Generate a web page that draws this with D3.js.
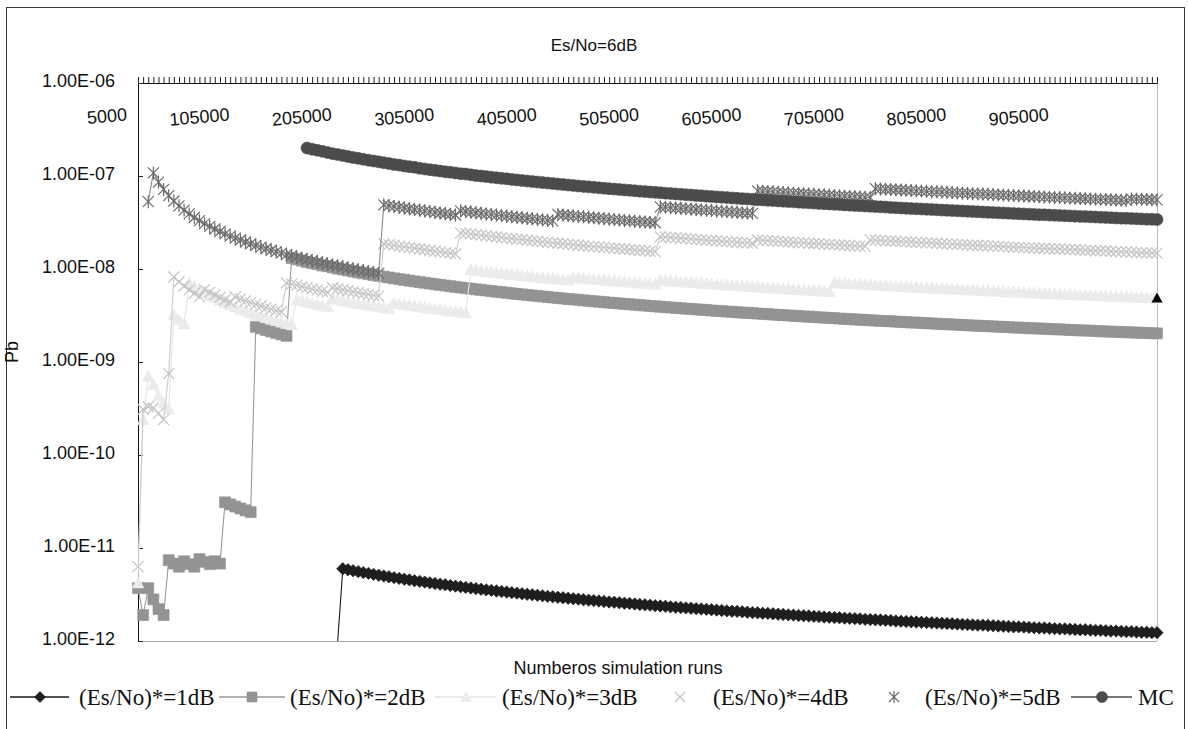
<!DOCTYPE html>
<html>
<head>
<meta charset="utf-8">
<script src="https://cdn.jsdelivr.net/npm/d3@7"></script>
<style>
  body { margin: 0; background: #fff; }
  svg { display: block; }
  .sans { font-family: "Liberation Sans", Arial, sans-serif; }
  .serif { font-family: "Liberation Serif", "Times New Roman", serif; }
</style>
</head>
<body>
<svg id="chart" width="1188" height="729"></svg>
<script>
// ---------------------------------------------------------------
// Data
// ---------------------------------------------------------------
// Number of simulation runs on the category axis: 5000 ... 1 000 000
const runs = d3.range(5000, 1000001, 5000);
const runLabels = ["5000", "105000", "205000", "305000", "405000",
                   "505000", "605000", "705000", "805000", "905000"];
const decadeTicks  = [1e-12, 1e-11, 1e-10, 1e-9, 1e-8, 1e-7, 1e-6];
const decadeLabels = ["1.00E-12", "1.00E-11", "1.00E-10", "1.00E-09",
                      "1.00E-08", "1.00E-07", "1.00E-06"];

const seriesNames = ["(Es/No)*=1dB", "(Es/No)*=2dB", "(Es/No)*=3dB",
                     "(Es/No)*=4dB", "(Es/No)*=5dB", "MC"];
// index into `runs` of the first value of each series
const seriesStart = [39, 0, 0, 0, 2, 33];

// Bit error probability estimates (each list in the unit noted)
const pb1dB = [ // x 1e-12
  0,
  5.98,5.83,5.70,5.57,5.44,5.33,5.21,5.10,5.00,4.90,
  4.80,4.71,4.62,4.54,4.45,4.38,4.30,4.22,4.15,4.08,
  4.02,3.95,3.89,3.83,3.77,3.71,3.66,3.60,3.55,3.50,
  3.45,3.40,3.36,3.31,3.27,3.22,3.18,3.14,3.10,3.06,
  3.02,2.99,2.95,2.92,2.88,2.85,2.82,2.78,2.75,2.72,
  2.69,2.66,2.63,2.61,2.58,2.55,2.53,2.50,2.47,2.45,
  2.43,2.40,2.38,2.36,2.33,2.31,2.29,2.27,2.25,2.23,
  2.21,2.19,2.17,2.15,2.13,2.11,2.09,2.08,2.06,2.04,
  2.02,2.01,1.99,1.98,1.96,1.94,1.93,1.91,1.90,1.88,
  1.87,1.86,1.84,1.83,1.81,1.80,1.79,1.78,1.76,1.75,
  1.74,1.73,1.71,1.70,1.69,1.68,1.67,1.66,1.64,1.63,
  1.62,1.61,1.60,1.59,1.58,1.57,1.56,1.55,1.54,1.53,
  1.52,1.51,1.50,1.49,1.48,1.48,1.47,1.46,1.45,1.44,
  1.43,1.42,1.42,1.41,1.40,1.39,1.38,1.38,1.37,1.36,
  1.35,1.35,1.34,1.33,1.32,1.32,1.31,1.30,1.30,1.29,
  1.28,1.28,1.27,1.26,1.26,1.25,1.24,1.24,1.23,1.23
].map(v => v * 1e-12);

const pb2dB = [ // x 1e-9
  0.0037,0.0019,0.0037,0.0028,0.0022,0.0019,
  0.0074,0.0068,0.0063,0.0072,0.0067,0.0063,0.0076,0.0071,0.0067,0.0072,0.0068,
  0.0310,0.0294,0.0279,0.0266,0.0254,0.0243,
  2.39,2.30,2.21,2.13,2.05,1.98,1.91,
  13.1,12.7,12.3,11.9,11.6,11.3,10.9,10.7,10.4,10.1,
  9.88,9.64,9.42,9.20,9.00,8.80,8.62,8.44,8.27,8.10,
  7.94,7.79,7.64,7.50,7.36,7.23,7.11,6.98,6.86,6.75,
  6.64,6.53,6.43,6.33,6.23,6.14,6.04,5.96,5.87,5.79,
  5.70,5.63,5.55,5.47,5.40,5.33,5.26,5.19,5.13,5.06,
  5.00,4.94,4.88,4.82,4.76,4.71,4.66,4.60,4.55,4.50,
  4.45,4.40,4.35,4.31,4.26,4.22,4.18,4.13,4.09,4.05,
  4.01,3.97,3.93,3.89,3.86,3.82,3.79,3.75,3.72,3.68,
  3.65,3.62,3.58,3.55,3.52,3.49,3.46,3.43,3.40,3.38,
  3.35,3.32,3.29,3.27,3.24,3.21,3.19,3.16,3.14,3.12,
  3.09,3.07,3.05,3.02,3.00,2.98,2.96,2.93,2.91,2.89,
  2.87,2.85,2.83,2.81,2.79,2.77,2.76,2.74,2.72,2.70,
  2.68,2.66,2.65,2.63,2.61,2.60,2.58,2.56,2.55,2.53,
  2.52,2.50,2.48,2.47,2.45,2.44,2.43,2.41,2.40,2.38,
  2.37,2.35,2.34,2.33,2.31,2.30,2.29,2.28,2.26,2.25,
  2.24,2.23,2.21,2.20,2.19,2.18,2.17,2.15,2.14,2.13,
  2.12,2.11,2.10,2.09,2.08,2.07,2.06,2.05,2.04,2.03
].map(v => v * 1e-9);

const pb3dB = [ // x 1e-9
  0.0042,0.24,0.70,0.57,0.43,0.36,0.31,
  3.20,2.84,2.56,
  7.09,6.50,6.00,5.57,5.20,4.88,4.59,4.33,4.11,3.90,
  3.71,3.55,3.39,3.25,3.12,3.00,2.89,2.79,2.69,2.60,2.52,
  4.69,4.55,4.41,4.29,4.17,4.05,3.95,
  4.82,4.70,4.59,4.48,4.37,4.27,4.18,4.09,4.00,3.92,3.84,3.76,
  4.31,4.23,4.15,4.07,4.00,3.93,3.86,3.79,3.73,3.67,3.61,3.55,3.49,3.44,3.38,
  9.79,9.64,9.50,9.36,9.23,9.10,8.97,8.85,8.73,8.61,
  8.50,8.39,8.28,8.18,8.08,7.98,7.88,7.78,7.69,7.60,
  8.14,8.05,7.95,7.87,7.78,7.69,7.61,7.53,7.45,7.37,7.29,7.22,7.14,7.07,7.00,6.93,6.86,
  7.57,7.50,7.43,7.36,7.29,7.22,7.16,7.09,7.03,6.96,
  6.90,6.84,6.78,6.72,6.67,6.61,6.55,6.50,6.45,6.39,
  6.34,6.29,6.24,6.19,6.14,6.09,6.05,6.00,5.95,5.91,
  5.86,5.82,5.78,5.74,
  7.11,7.06,7.01,6.96,6.91,6.86,6.81,6.76,6.72,6.67,6.63,6.58,6.54,6.49,
  6.45,6.41,6.37,6.32,6.28,6.24,6.20,6.16,6.13,6.09,
  6.05,6.01,5.98,5.94,5.90,5.87,5.83,5.80,5.76,5.73,
  5.70,5.66,5.63,5.60,5.57,5.53,5.50,5.47,5.44,5.41,
  5.38,5.35,5.32,5.29,5.26,5.24,5.21,5.18,5.15,5.13,
  5.10,5.07,5.05,5.02,4.99,4.97,4.94,4.92,4.89,4.87
].map(v => v * 1e-9);

const pb4dB = [ // x 1e-9
  0.0063,0.31,0.33,0.32,0.28,0.24,0.75,
  8.20,7.29,6.56,5.96,5.47,5.05,
  6.00,5.60,5.25,4.94,4.67,4.42,
  5.00,4.76,4.55,4.35,4.17,4.00,3.85,3.70,3.57,3.45,
  7.10,6.87,6.66,6.45,6.26,6.09,5.92,5.76,5.61,
  6.28,6.13,5.98,5.83,5.70,5.57,5.44,5.33,5.21,5.10,
  18.7,18.3,18.0,17.6,17.3,17.0,16.7,16.4,16.1,15.8,15.5,15.3,15.0,14.8,14.5,
  24.5,24.2,23.8,23.4,23.1,22.8,22.4,22.1,21.8,21.5,
  21.2,20.9,20.7,20.4,20.1,19.9,19.6,19.4,19.1,18.9,
  18.7,18.5,18.3,18.0,17.8,17.6,17.4,17.3,17.1,16.9,
  16.7,16.5,16.4,16.2,16.0,15.9,15.7,15.5,15.4,
  22.2,22.0,21.8,21.6,21.4,21.2,21.0,20.8,20.6,20.4,
  20.3,20.1,19.9,19.7,19.6,19.4,19.2,19.1,18.9,
  20.5,20.3,20.2,20.0,19.8,19.7,19.5,19.4,19.2,19.1,
  18.9,18.8,18.7,18.5,18.4,18.2,18.1,18.0,17.9,17.7,17.6,17.5,
  20.6,20.4,20.3,20.1,20.0,19.9,19.7,19.6,19.5,19.3,
  19.2,19.1,19.0,18.9,18.7,18.6,18.5,18.4,18.3,18.2,
  18.0,17.9,17.8,17.7,17.6,17.5,17.4,17.3,17.2,17.1,
  17.0,16.9,16.8,16.7,16.6,16.5,16.4,16.4,16.3,16.2,
  16.1,16.0,15.9,15.8,15.7,15.7,15.6,15.5,15.4,15.3,
  15.3,15.2,15.1,15.0,14.9,14.9,14.8
].map(v => v * 1e-9);

const pb5dB = [ // x 1e-9
  53,
  108,86.0,71.7,61.4,53.8,47.8,43.0,39.1,35.8,33.1,
  30.7,28.7,26.9,25.3,23.9,22.6,21.5,20.5,19.5,18.7,
  17.9,17.2,16.5,15.9,15.4,14.8,14.3,13.9,13.4,13.0,
  12.6,12.3,11.9,11.6,11.3,11.0,10.8,10.5,10.2,10.0,
  9.77,9.56,9.35,9.15,8.96,
  49.0,48.0,47.1,46.2,45.3,44.4,43.6,42.9,42.1,41.4,40.7,40.0,39.3,38.7,38.1,
  42.2,41.5,40.9,40.3,39.7,39.1,38.6,38.0,37.5,37.0,
  36.5,36.0,35.5,35.1,34.6,34.2,33.8,33.3,32.9,
  38.6,38.1,37.6,37.2,36.8,36.4,36.0,35.6,35.2,34.8,
  34.4,34.0,33.7,33.3,33.0,32.7,32.3,32.0,31.7,31.4,
  46.6,46.2,45.7,45.3,44.9,44.4,44.0,43.6,43.2,42.9,
  42.5,42.1,41.7,41.4,41.0,40.7,40.3,40.0,39.7,
  69.2,68.6,68.1,67.5,67.0,66.5,65.9,65.4,64.9,64.4,
  63.9,63.5,63.0,62.5,62.1,61.6,61.2,60.7,60.3,59.9,59.4,59.0,58.6,
  73.1,72.6,72.1,71.6,71.1,70.7,70.2,69.7,69.3,68.8,
  68.4,67.9,67.5,67.1,66.7,66.3,65.8,65.4,65.0,64.6,
  64.2,63.9,63.5,63.1,62.7,62.4,62.0,61.6,61.3,60.9,
  60.6,60.2,59.9,59.6,59.2,58.9,58.6,58.2,57.9,57.6,
  57.3,57.0,56.7,56.4,56.1,55.8,55.5,55.2,54.9,54.6,
  56.7,56.4,56.1,55.9,55.6,55.3
].map(v => v * 1e-9);

const pbMC = [ // x 1e-9
  200,194,189,184,179,174,170,166,162,158,
  155,151,148,145,142,139,136,133,131,128,
  126,124,121,119,117,115,113,111,110,108,
  106,105,103,101,100,
  98.6,97.1,95.8,94.4,93.2,91.9,90.7,89.5,88.3,87.2,
  86.1,85.0,84.0,82.9,81.9,81.0,80.0,79.1,78.2,77.3,
  76.4,75.6,74.7,73.9,73.1,72.3,71.6,70.8,70.1,69.4,
  68.7,68.0,67.3,66.7,66.0,65.4,64.8,64.2,63.6,63.0,
  62.4,61.8,61.3,60.7,60.2,59.6,59.1,58.6,58.1,57.6,
  57.1,56.7,56.2,55.7,55.3,54.8,54.4,54.0,53.5,53.1,
  52.7,52.3,51.9,51.5,51.1,50.7,50.4,50.0,49.6,49.3,
  48.9,48.6,48.2,47.9,47.6,47.2,46.9,46.6,46.3,45.9,
  45.6,45.3,45.0,44.7,44.4,44.2,43.9,43.6,43.3,43.0,
  42.8,42.5,42.2,42.0,41.7,41.5,41.2,41.0,40.7,40.5,
  40.2,40.0,39.8,39.5,39.3,39.1,38.9,38.6,38.4,38.2,
  38.0,37.8,37.6,37.4,37.2,37.0,36.8,36.6,36.4,36.2,
  36.0,35.8,35.6,35.4,35.2,35.1,34.9,34.7,34.5,34.3,
  34.2,34.0
].map(v => v * 1e-9);

const seriesValues = [pb1dB, pb2dB, pb3dB, pb4dB, pb5dB, pbMC];

// ---------------------------------------------------------------
// Styling
// ---------------------------------------------------------------
const shapes = {
  diamond:  "M0,-6.2L6.2,0L0,6.2L-6.2,0Z",
  square:   "M-5.5,-5.5H5.5V5.5H-5.5Z",
  triangle: "M0,-6L6,5H-6Z",
  cross:    "M-5.5,-5.5L5.5,5.5M5.5,-5.5L-5.5,5.5",
  star:     "M-5.5,-5.5L5.5,5.5M5.5,-5.5L-5.5,5.5M0,-6.5V6.5",
  circle:   d3.symbol(d3.symbolCircle, Math.PI * 6 * 6)()
};
const legendShapes = {
  diamond:  "M0,-5.5L5.5,0L0,5.5L-5.5,0Z",
  square:   "M-5,-5H5V5H-5Z",
  triangle: "M0,-5.5L5.5,4.5H-5.5Z",
  cross:    "M-5,-5L5,5M5,-5L-5,5",
  star:     "M-5,-5L5,5M5,-5L-5,5M0,-6V6",
  circle:   d3.symbol(d3.symbolCircle, Math.PI * 5.5 * 5.5)()
};
const seriesStyle = [
  { shape: "diamond",  fill: "#1e1e1e", line: "#1a1a1a", legendLine: true  },
  { shape: "square",   fill: "#939393", line: "#9a9a9a", legendLine: true  },
  { shape: "triangle", fill: "#ebebeb", line: "#e4e4e4", legendLine: true  },
  { shape: "cross",    stroke: "#c4c4c4", line: "#cccccc", legendLine: false },
  { shape: "star",     stroke: "#6b6b6b", line: "#8a8a8a", legendLine: false },
  { shape: "circle",   fill: "#4b4b4b", line: "#4b4b4b", legendLine: true  }
];

// ---------------------------------------------------------------
// Chart
// ---------------------------------------------------------------
const plot = { left: 138, right: 1157, top: 83, bottom: 641 };
const svg = d3.select("#chart");

// outer chart frame
svg.append("rect")
  .attr("x", 6.5).attr("y", 7.5)
  .attr("width", 1178).attr("height", 740)
  .attr("fill", "#fff").attr("stroke", "#3a3a3a").attr("stroke-width", 1);

const x = d3.scalePoint().domain(runs).range([plot.left, plot.right]);
const y = d3.scaleLog().domain([1e-12, 1e-6]).range([plot.bottom, plot.top]).clamp(true);

// plot-area edges (bottom and right in light grey)
svg.append("line")
  .attr("x1", plot.left).attr("x2", plot.right)
  .attr("y1", plot.bottom + 0.5).attr("y2", plot.bottom + 0.5)
  .attr("stroke", "#a8a8a8");
svg.append("line")
  .attr("x1", plot.right + 0.5).attr("x2", plot.right + 0.5)
  .attr("y1", plot.top).attr("y2", plot.bottom)
  .attr("stroke", "#bcbcbc");

// category axis along the top
const xAxisG = svg.append("g")
  .attr("transform", `translate(0,${plot.top})`)
  .call(d3.axisTop(x).tickValues(runs).tickSize(6).tickSizeOuter(0).tickFormat(""));
xAxisG.select(".domain").attr("stroke", "#111");
xAxisG.selectAll(".tick line").attr("stroke", "#222");

svg.append("g").selectAll("text")
  .data(runLabels)
  .join("text")
  .attr("class", "sans")
  .attr("font-size", 18)
  .attr("fill", "#111")
  .attr("text-anchor", "end")
  .attr("transform", d => `translate(${x(+d) - 10.5},120.5) rotate(-5)`)
  .text(d => d);

// log axis on the left, ticks pointing into the plot
const yAxisG = svg.append("g")
  .attr("transform", `translate(${plot.left},0)`)
  .call(d3.axisLeft(y)
    .tickValues(decadeTicks)
    .tickFormat((d, i) => decadeLabels[i])
    .tickSizeInner(-5).tickSizeOuter(0).tickPadding(23));
yAxisG.select(".domain").attr("stroke", "#111");
yAxisG.selectAll(".tick line").attr("stroke", "#222");
yAxisG.selectAll(".tick text")
  .attr("class", "sans")
  .attr("font-size", 18)
  .attr("fill", "#111")
  .attr("dy", "0.22em");

// titles
svg.append("text").attr("class", "sans")
  .attr("x", 594).attr("y", 51).attr("text-anchor", "middle")
  .attr("font-size", 17).attr("fill", "#111").text("Es/No=6dB");
svg.append("text").attr("class", "sans")
  .attr("x", 618).attr("y", 674).attr("text-anchor", "middle")
  .attr("font-size", 18).attr("fill", "#111").text("Numberos simulation runs");
svg.append("text").attr("class", "sans")
  .attr("transform", "translate(18,352) rotate(-90)").attr("text-anchor", "middle")
  .attr("font-size", 18).attr("fill", "#111").text("Pb");

// series
svg.append("clipPath").attr("id", "plot-clip")
  .append("rect")
  .attr("x", plot.left).attr("y", plot.top)
  .attr("width", plot.right - plot.left + 1).attr("height", plot.bottom - plot.top + 1);

const line = d3.line()
  .x(d => x(runs[d.i]))
  .y(d => y(d.v));

function drawMarker(sel, style, shapeSet) {
  const p = sel.attr("d", shapeSet[style.shape]);
  if (style.stroke) {
    p.attr("fill", "none").attr("stroke", style.stroke).attr("stroke-width", 1.2);
  } else {
    p.attr("fill", style.fill).attr("stroke", style.fill).attr("stroke-width", 0.6);
  }
  return p;
}

seriesValues.forEach((vals, s) => {
  const style = seriesStyle[s];
  const pts = vals.map((v, j) => ({ i: seriesStart[s] + j, v }));
  const g = svg.append("g");
  g.append("path")
    .attr("d", line(pts))
    .attr("fill", "none")
    .attr("stroke", style.line)
    .attr("stroke-width", 1.1)
    .attr("clip-path", "url(#plot-clip)");
  g.selectAll("path.mk")
    .data(pts.filter(d => d.v > 0))
    .join("path")
    .attr("class", "mk")
    .attr("transform", d => `translate(${x(runs[d.i])},${y(d.v)})`)
    .call(sel => drawMarker(sel, style, shapes));
});

// last point of the 3 dB series is highlighted in black
{
  const last = pb3dB.length - 1;
  svg.append("path")
    .attr("d", legendShapes.triangle)
    .attr("fill", "#000")
    .attr("transform", `translate(${x(runs[seriesStart[2] + last])},${y(pb3dB[last])})`);
}

// legend
const legendY = 697;
const legendItems = [
  { line: [10, 69],     mark: 40,   text: 79   },
  { line: [219, 285],   mark: 252,  text: 290  },
  { line: [435, 496],   mark: 466,  text: 502  },
  { line: null,         mark: 680,  text: 713  },
  { line: null,         mark: 894,  text: 925  },
  { line: [1071, 1132], mark: 1102, text: 1138 }
];
const legend = svg.append("g");
legendItems.forEach((it, s) => {
  const style = seriesStyle[s];
  if (it.line && style.legendLine) {
    legend.append("line")
      .attr("x1", it.line[0]).attr("x2", it.line[1])
      .attr("y1", legendY).attr("y2", legendY)
      .attr("stroke", style.line).attr("stroke-width", 1.5);
  }
  legend.append("path")
    .attr("transform", `translate(${it.mark},${legendY})`)
    .call(sel => drawMarker(sel, style, legendShapes));
  legend.append("text")
    .attr("class", "serif")
    .attr("x", it.text).attr("y", legendY + 8)
    .attr("font-size", 23).attr("fill", "#111")
    .text(seriesNames[s]);
});
</script>
</body>
</html>
